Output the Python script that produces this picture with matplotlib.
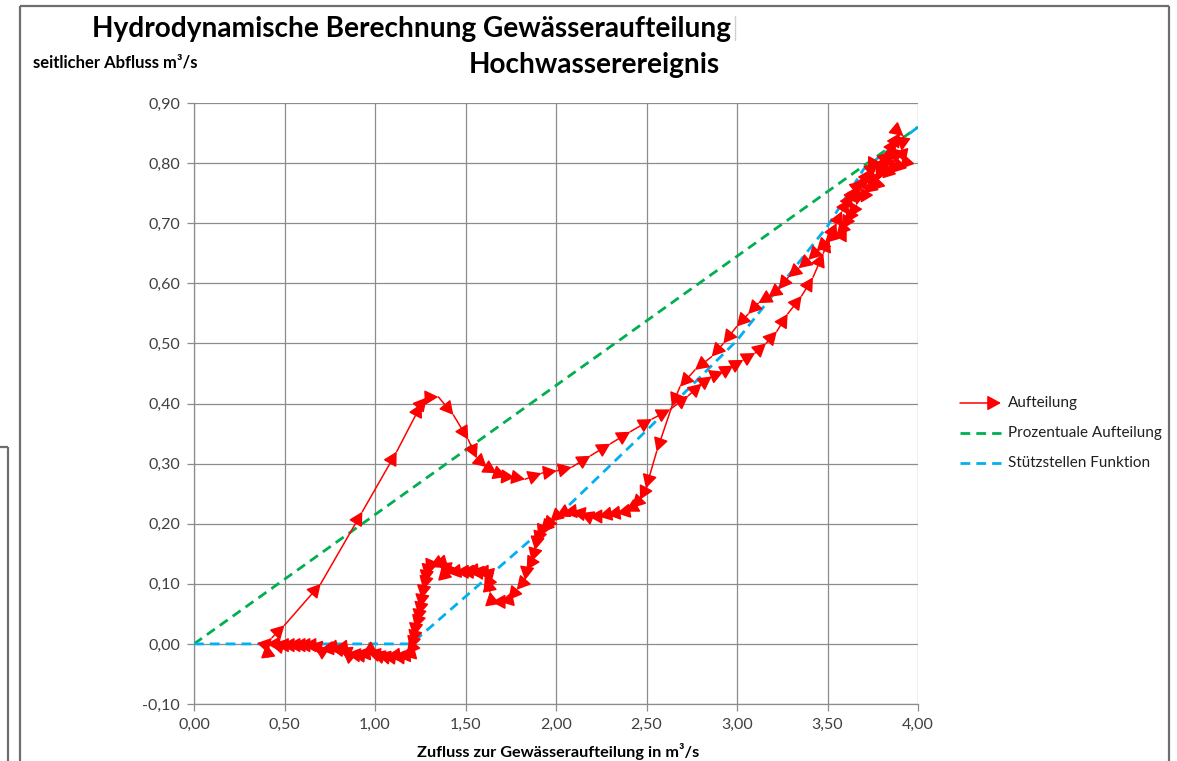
import numpy as np
import matplotlib
matplotlib.use("Agg")
import matplotlib.pyplot as plt
from matplotlib.lines import Line2D
from matplotlib.patches import FancyArrowPatch

plt.rcParams["font.family"] = ["Lato", "DejaVu Sans"]

# ---- data ----
# Aufteilung: hysteresis loop, rising limb then falling limb (in time order)
auf_x = [0.41, 0.40, 0.43, 0.50, 0.70, 0.93, 1.12, 1.258, 1.286, 1.35, 1.433, 1.515, 1.562,
         1.617, 1.672, 1.728, 1.773, 1.829, 1.92, 2.004, 2.087, 2.19, 2.30, 2.41, 2.53, 2.63,
         2.731, 2.805, 2.86, 2.925, 2.98, 3.035, 3.10, 3.16, 3.22, 3.28, 3.357, 3.42, 3.477,
         3.51, 3.55, 3.58, 3.62, 3.64, 3.66, 3.70, 3.72, 3.74, 3.78, 3.80, 3.82, 3.85, 3.86,
         3.88, 3.90, 3.92, 3.91, 3.93, 3.90, 3.88, 3.87, 3.84, 3.82, 3.80, 3.77, 3.76, 3.74,
         3.70, 3.68, 3.66, 3.62, 3.60, 3.58, 3.55, 3.53, 3.486,
         3.44, 3.394, 3.34, 3.283, 3.23, 3.173, 3.118, 3.062, 2.998, 2.925, 2.86, 2.768, 2.685,
         2.64, 2.556, 2.497, 2.464, 2.418, 2.381, 2.335, 2.28, 2.234, 2.18, 2.133, 2.087, 2.04,
         2.00, 1.967, 1.93, 1.915, 1.902, 1.89, 1.884, 1.866, 1.838, 1.829, 1.783, 1.737, 1.69,
         1.645, 1.635, 1.62, 1.608, 1.58, 1.552, 1.525, 1.497, 1.47, 1.442, 1.40, 1.387, 1.37,
         1.345, 1.322, 1.30, 1.286, 1.28, 1.275, 1.267, 1.258, 1.25, 1.24, 1.232, 1.222, 1.215,
         1.205, 1.195, 1.175, 1.15, 1.12, 1.09, 1.065, 1.04, 1.01, 0.98, 0.954, 0.93, 0.899,
         0.87, 0.844, 0.82, 0.797, 0.775, 0.751, 0.72, 0.696, 0.665, 0.632, 0.60, 0.567, 0.54,
         0.512, 0.48, 0.448, 0.42, 0.40]
auf_y = [-0.022, 0.0, 0.01, 0.031, 0.10, 0.22, 0.32, 0.40, 0.41, 0.411, 0.381, 0.34, 0.309,
         0.294, 0.284, 0.278, 0.277, 0.274, 0.284, 0.288, 0.294, 0.313, 0.333, 0.353, 0.374, 0.39,
         0.413, 0.433, 0.445, 0.453, 0.463, 0.4725, 0.484, 0.50, 0.52, 0.549, 0.579, 0.61, 0.65,
         0.675, 0.70, 0.72, 0.74, 0.75, 0.76, 0.77, 0.78, 0.79, 0.80, 0.80, 0.81, 0.82, 0.83,
         0.84, 0.85, 0.845, 0.82, 0.80, 0.79, 0.81, 0.80, 0.78, 0.80, 0.79, 0.77, 0.78, 0.76,
         0.75, 0.76, 0.73, 0.71, 0.70, 0.69, 0.68, 0.68, 0.667,
         0.653, 0.639, 0.625, 0.61, 0.59, 0.577, 0.567, 0.549, 0.528, 0.50, 0.478, 0.456, 0.428,
         0.395, 0.32, 0.259, 0.24, 0.226, 0.22, 0.2175, 0.215, 0.212, 0.212, 0.2175, 0.22, 0.218,
         0.212, 0.203, 0.19, 0.185, 0.176, 0.165, 0.156, 0.137, 0.123, 0.106, 0.09, 0.073, 0.07,
         0.07, 0.087, 0.11, 0.118, 0.12, 0.12, 0.121, 0.12, 0.12, 0.12, 0.118, 0.109, 0.13,
         0.133, 0.131, 0.128, 0.118, 0.11, 0.10, 0.09, 0.075, 0.06, 0.047, 0.035, 0.025, 0.012,
         0.0, -0.01, -0.018, -0.02, -0.021, -0.02, -0.021, -0.02, -0.018, -0.015, -0.013, -0.017,
         -0.018, -0.017, -0.016, -0.01, -0.007, -0.008, -0.007, -0.009, -0.01, -0.004, -0.002,
         -0.002, -0.002, -0.002, -0.002, -0.002, -0.002, 0.0, 0.0]

# Prozentuale Aufteilung
proz_x = [0.0, 4.0]
proz_y = [0.0, 0.86]

# Stützstellen Funktion
stuetz_x = [0.0, 1.2, 2.0, 2.5, 3.0, 3.5, 3.7, 4.0]
stuetz_y = [0.0, 0.0, 0.21, 0.355, 0.505, 0.695, 0.79, 0.86]

x_ticks = [0.0, 0.5, 1.0, 1.5, 2.0, 2.5, 3.0, 3.5, 4.0]
y_ticks = [-0.1, 0.0, 0.1, 0.2, 0.3, 0.4, 0.5, 0.6, 0.7, 0.8, 0.9]

RED = "#ff0000"
GREEN = "#00b050"
BLUE = "#00b0f0"
GRID = "#8c8c8c"
TXT = "#404040"

W, H = 1177, 761
fig = plt.figure(figsize=(W / 100, H / 100), dpi=100)


def fx(px):
    return px / W


def fy(py):
    return 1 - py / H


# surrounding chart frame
frame = dict(color="#6e6e6e", lw=1.6, solid_capstyle="butt")
fig.add_artist(Line2D([fx(20), fx(1169)], [fy(6), fy(6)], **frame))
fig.add_artist(Line2D([fx(20), fx(20)], [fy(6), fy(761)], **frame))
fig.add_artist(Line2D([fx(1169), fx(1169)], [fy(6), fy(761)], **frame))
fig.add_artist(Line2D([0, fx(8)], [fy(447), fy(447)], **frame))
fig.add_artist(Line2D([fx(8), fx(8)], [fy(447), fy(761)], **frame))
fig.add_artist(Line2D([fx(735), fx(735)], [fy(16), fy(40)], color="#d0d0d0", lw=1))

ax = fig.add_axes([fx(194), fy(704), (918 - 194) / W, (704 - 103) / H])
ax.set_xlim(0, 4.0)
ax.set_ylim(-0.1, 0.9)
ax.set_xticks(x_ticks)
ax.set_yticks(y_ticks)
ax.set_xticklabels([f"{v:.2f}".replace(".", ",") for v in x_ticks])
ax.set_yticklabels([f"{v:.2f}".replace(".", ",") for v in y_ticks])
ax.tick_params(direction="out", length=5, width=0.9, color=GRID, labelsize=11.5,
               labelcolor=TXT, pad=5)
ax.grid(True, color=GRID, lw=0.9)
ax.set_axisbelow(True)
for s in ["top", "right"]:
    ax.spines[s].set_visible(False)
for s in ["left", "bottom"]:
    ax.spines[s].set_color(GRID)
    ax.spines[s].set_linewidth(0.9)

ax.plot(proz_x, proz_y, color=GREEN, lw=2.0, dashes=(3.5, 2.2), dash_capstyle="butt", zorder=3)
ax.plot(stuetz_x, stuetz_y, color=BLUE, lw=2.0, dashes=(3.5, 2.2), dash_capstyle="butt", zorder=3)

# red series: every segment ends in an arrowhead
ARROW = "-|>,head_length=0.55,head_width=0.3"
for i in range(1, len(auf_x)):
    ax.annotate("", xy=(auf_x[i], auf_y[i]), xytext=(auf_x[i - 1], auf_y[i - 1]),
                arrowprops=dict(arrowstyle=ARROW, mutation_scale=15, color=RED, lw=1.1,
                                shrinkA=0, shrinkB=0), zorder=4)

# titles and axis labels
fig.text(fx(411), fy(29), "Hydrodynamische Berechnung Gewässeraufteilung",
         fontsize=20.2, fontweight="bold", ha="center", va="center", color="black")
fig.text(fx(594), fy(65), "Hochwasserereignis",
         fontsize=20.2, fontweight="bold", ha="center", va="center", color="black")
fig.text(fx(33), fy(62), "seitlicher Abfluss m³/s", fontsize=12, fontweight="bold",
         ha="left", va="center", color="black")
fig.text(fx(558), fy(751), "Zufluss zur Gewässeraufteilung in m³/s", fontsize=11.7,
         fontweight="bold", ha="center", va="center", color="black")

# legend
fig.add_artist(FancyArrowPatch((fx(960), fy(403)), (fx(1001), fy(403)),
                               transform=fig.transFigure, arrowstyle=ARROW,
                               mutation_scale=15, color=RED, lw=1.1,
                               shrinkA=0, shrinkB=0))
fig.add_artist(Line2D([fx(960), fx(1001)], [fy(433), fy(433)], color=GREEN, lw=2.0,
                      dashes=(3.5, 2.2), dash_capstyle="butt"))
fig.add_artist(Line2D([fx(960), fx(1001)], [fy(463), fy(463)], color=BLUE, lw=2.0,
                      dashes=(3.5, 2.2), dash_capstyle="butt"))
for yy, lab in [(403, "Aufteilung"), (433, "Prozentuale Aufteilung"),
                (463, "Stützstellen Funktion")]:
    fig.text(fx(1008), fy(yy), lab, fontsize=11, ha="left", va="center", color="#202020")

fig.savefig("out.png", dpi=100)
